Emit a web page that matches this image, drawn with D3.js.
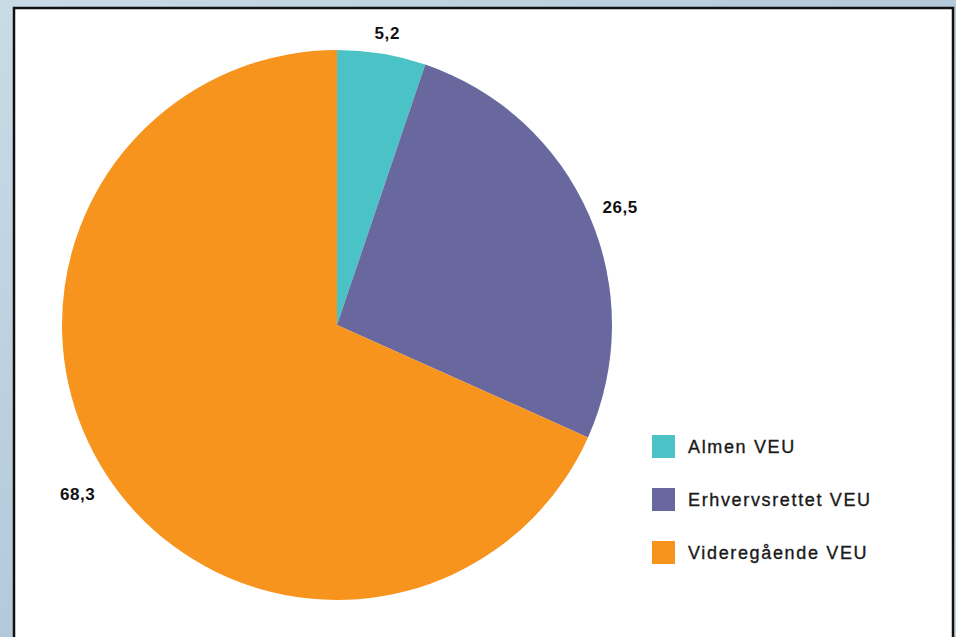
<!DOCTYPE html>
<html>
<head>
<meta charset="utf-8">
<script src="https://cdn.jsdelivr.net/npm/d3@7"></script>
<style>
  html, body { margin: 0; padding: 0; overflow: hidden; }
  body { width: 956px; height: 637px; }
</style>
</head>
<body>
<div id="chart"></div>
<script>
// data
const categories = ["Almen VEU", "Erhvervsrettet VEU", "Videregående VEU"];
const values = [5.2, 26.5, 68.3];
const labels = ["5,2", "26,5", "68,3"];
const colors = ["#4BC3C6", "#68689E", "#F7941E"];

const W = 956, H = 637;
const cx = 337, cy = 325, radius = 275;

const svg = d3.select("#chart").append("svg")
    .attr("width", W)
    .attr("height", H);

// icy background
const defs = svg.append("defs");
const grad = defs.append("linearGradient")
    .attr("id", "ice")
    .attr("x1", "0").attr("y1", "0").attr("x2", "1").attr("y2", "1");
grad.append("stop").attr("offset", "0%").attr("stop-color", "#c9dbe6");
grad.append("stop").attr("offset", "50%").attr("stop-color", "#b4c9da");
grad.append("stop").attr("offset", "100%").attr("stop-color", "#c3d6e3");

svg.append("rect")
    .attr("width", W).attr("height", H)
    .attr("fill", "url(#ice)");

// white panel with dark border
svg.append("rect")
    .attr("x", 14).attr("y", 8)
    .attr("width", 939).attr("height", H)
    .attr("fill", "#ffffff")
    .attr("stroke", "#111111")
    .attr("stroke-width", 2.5);

const g = svg.append("g")
    .attr("transform", `translate(${cx},${cy})`);

const pie = d3.pie().sort(null).value(d => d);
const arcs = pie(values);

const arc = d3.arc().innerRadius(0).outerRadius(radius);

g.selectAll("path")
    .data(arcs)
    .join("path")
    .attr("d", arc)
    .attr("fill", (d, i) => colors[i]);

// data labels, just outside the pie (label box pushed outward)
const labelR = radius + 15;
const midAngle = d => (d.startAngle + d.endAngle) / 2;
g.selectAll("text.lbl")
    .data(arcs)
    .join("text")
    .attr("class", "lbl")
    .attr("x", d => {
        const a = midAngle(d);
        return labelR * Math.sin(a) + 19 * Math.sin(a);
    })
    .attr("y", d => {
        const a = midAngle(d);
        const c = Math.cos(a);
        const r = labelR + 28 * Math.max(0, -c);
        return -r * c - 6 * c + 6;
    })
    .attr("text-anchor", "middle")
    .attr("font-family", "Liberation Sans, Arial, sans-serif")
    .attr("font-weight", "bold")
    .attr("font-size", "17px")
    .attr("letter-spacing", "0.6px")
    .attr("fill", "#111111")
    .text((d, i) => labels[i]);

// legend
const legend = svg.append("g")
    .attr("transform", "translate(652,435)");

const item = legend.selectAll("g")
    .data(categories)
    .join("g")
    .attr("transform", (d, i) => `translate(0,${i * 53})`);

item.append("rect")
    .attr("width", 23)
    .attr("height", 23)
    .attr("fill", (d, i) => colors[i]);

item.append("text")
    .attr("x", 36)
    .attr("y", 17.5)
    .attr("font-family", "Liberation Sans, Arial, sans-serif")
    .attr("font-size", "18px")
    .attr("letter-spacing", "1.65px")
    .attr("fill", "#1a1a1a")
    .attr("stroke", "#1a1a1a")
    .attr("stroke-width", 0.35)
    .text(d => d);
</script>
</body>
</html>
